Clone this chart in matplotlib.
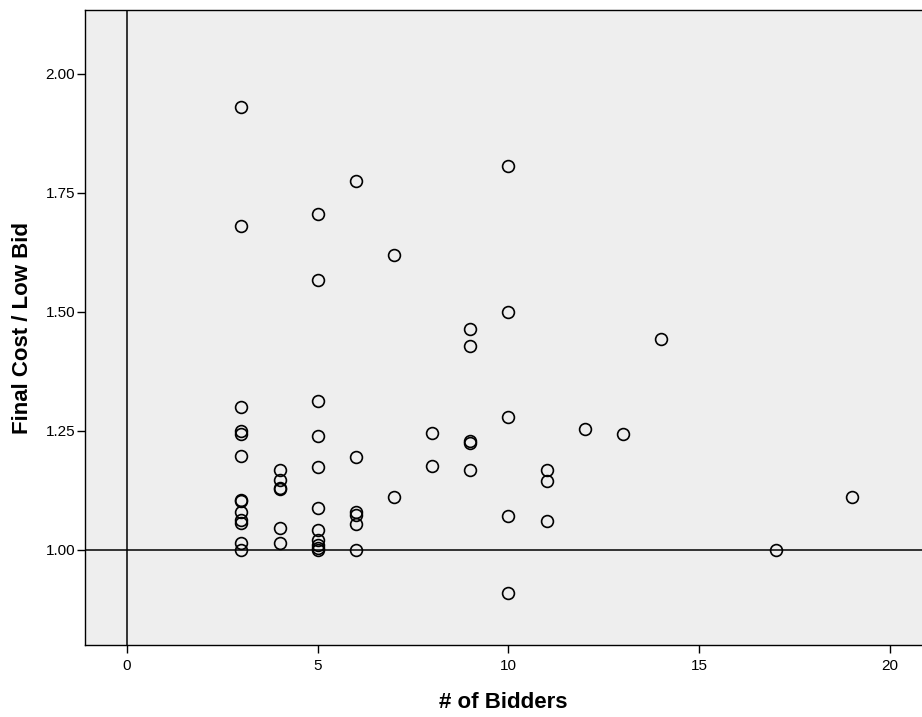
import matplotlib
matplotlib.use("Agg")
import matplotlib.pyplot as plt

plt.rcParams['font.family'] = ['Liberation Sans', 'DejaVu Sans']

# number of bidders per project and final cost relative to the low bid
bidders = [3, 3, 3, 3, 3, 3, 3, 3, 3, 3, 3, 3, 3,
           4, 4, 4, 4, 4, 4,
           5, 5, 5, 5, 5, 5, 5, 5, 5, 5, 5,
           6, 6, 6, 6, 6, 6,
           7, 7,
           8, 8,
           9, 9, 9, 9, 9,
           10, 10, 10, 10, 10,
           11, 11, 11,
           12, 13, 14, 17, 19]
ratio = [1.931, 1.681, 1.300, 1.250, 1.244, 1.197, 1.105, 1.103, 1.080, 1.063, 1.057, 1.015, 1.000,
         1.168, 1.146, 1.131, 1.129, 1.046, 1.014,
         1.706, 1.567, 1.313, 1.239, 1.174, 1.088, 1.043, 1.021, 1.010, 1.004, 1.000,
         1.775, 1.196, 1.080, 1.073, 1.055, 1.000,
         1.619, 1.112,
         1.245, 1.177,
         1.465, 1.429, 1.229, 1.224, 1.167,
         1.807, 1.500, 1.279, 1.072, 0.909,
         1.167, 1.144, 1.061,
         1.255, 1.244, 1.443, 1.001, 1.112]

yticks = [1.00, 1.25, 1.50, 1.75, 2.00]
xticks = [0, 5, 10, 15, 20]

fig = plt.figure(figsize=(9.22, 7.17), dpi=100)
ax = fig.add_axes([0.0922, 0.1004, 0.9078, 0.8856])
ax.set_facecolor('#eeeeee')

ax.axvline(0, color='black', lw=1.1, zorder=1)
ax.axhline(1.0, color='black', lw=1.1, zorder=1)

ax.plot(bidders, ratio, 'o', mfc='none', mec='black', mew=1.2, ms=8.5, zorder=3)

ax.set_xlim(-1.1, 20.84)
ax.set_ylim(0.8004, 2.134)
ax.set_xticks(xticks)
ax.set_yticks(yticks)
ax.set_yticklabels(['%.2f' % t for t in yticks])
ax.tick_params(direction='out', length=6, width=1, labelsize=11, colors='black')
ax.tick_params(axis='x', pad=4)
ax.tick_params(axis='y', pad=1)
ax.spines['right'].set_visible(False)
for s in ['left', 'top', 'bottom']:
    ax.spines[s].set_linewidth(1)

ax.set_xlabel('# of Bidders', fontsize=16, fontweight='bold', labelpad=14)
ax.set_ylabel('Final Cost / Low Bid', fontsize=16, fontweight='bold', labelpad=9)

fig.savefig('out.png', dpi=100)
